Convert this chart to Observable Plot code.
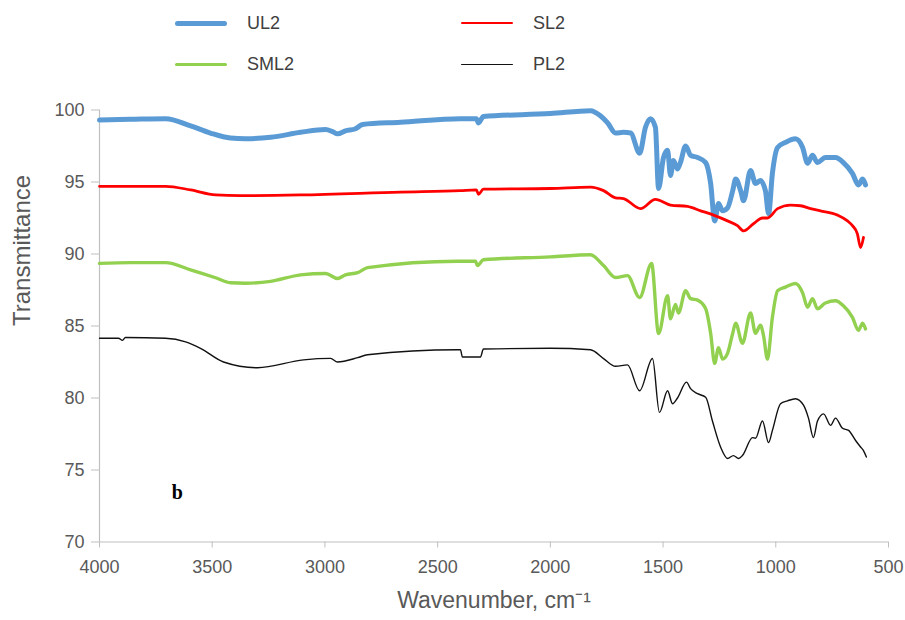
<!DOCTYPE html>
<html>
<head>
<meta charset="utf-8">
<script src="https://cdn.jsdelivr.net/npm/d3@7"></script>
<script src="https://cdn.jsdelivr.net/npm/@observablehq/plot@0.6"></script>
<style>
  body { margin: 0; background: #fff; }
  #chart { position: relative; width: 905px; height: 620px; background: #fff;
           font-family: "Liberation Sans", Arial, sans-serif; }
  #legend { position: relative; width: 905px; height: 90px; }
  .item { position: absolute; display: flex; align-items: center; height: 24px; }
  .swatch { width: 52px; border-radius: 3px; }
  .name { margin-left: 20px; font-size: 18px; color: #404040; }
  #chart svg { display: block; }
</style>
</head>
<body>
<div id="chart"><div id="legend"></div></div>
<script>
// FTIR spectra: wavenumber (cm-1) vs transmittance (%)
const seriesNames = ["UL2", "SL2", "SML2", "PL2"];
const xTicks = [4000, 3500, 3000, 2500, 2000, 1500, 1000, 500];
const yTicks = [70, 75, 80, 85, 90, 95, 100];

const UL2 = [
  [4000, 99.3], [3862, 99.35], [3707, 99.4], [3596, 98.9], [3508, 98.4], [3419, 98.05],
  [3352, 98.0], [3241, 98.1], [3108, 98.45], [2997, 98.65], [2966, 98.5], [2944, 98.35],
  [2909, 98.55], [2864, 98.7], [2833, 99.0], [2665, 99.15], [2399, 99.4], [2328, 99.4],
  [2319, 99.1], [2297, 99.55], [2000, 99.75], [1822, 99.95], [1778, 99.6], [1746, 99.1],
  [1711, 98.4], [1676, 98.45], [1644, 98.4], [1604, 97.0], [1578, 98.8], [1556, 99.4],
  [1534, 98.8], [1520, 94.55], [1498, 96.7], [1480, 97.2], [1467, 95.45], [1454, 96.5],
  [1436, 95.9], [1423, 96.35], [1400, 97.5], [1378, 96.85], [1347, 96.7], [1311, 96.35],
  [1289, 94.9], [1271, 92.3], [1254, 93.5], [1236, 93.0], [1214, 93.2], [1191, 94.4],
  [1178, 95.2], [1156, 94.4], [1143, 93.7], [1112, 95.8], [1090, 94.9], [1068, 95.1],
  [1046, 94.4], [1032, 92.8], [1015, 95.6], [992, 97.4], [957, 97.75], [913, 98.0],
  [881, 97.4], [859, 96.3], [837, 96.85], [815, 96.35], [780, 96.7], [735, 96.7],
  [700, 96.35], [660, 95.6], [633, 94.8], [615, 95.2], [602, 94.8]
];

const SL2 = [
  [4000, 94.7], [3707, 94.7], [3596, 94.45], [3485, 94.1], [3375, 94.05], [3108, 94.1],
  [2665, 94.3], [2399, 94.4], [2328, 94.45], [2319, 94.15], [2297, 94.5], [2000, 94.55],
  [1822, 94.65], [1764, 94.4], [1711, 93.9], [1676, 93.85], [1600, 93.15], [1534, 93.8],
  [1467, 93.4], [1392, 93.3], [1333, 93.0], [1276, 92.7], [1214, 92.3], [1170, 91.97],
  [1143, 91.6], [1099, 92.1], [1059, 92.5], [1037, 92.5], [992, 93.15], [935, 93.4],
  [890, 93.35], [846, 93.15], [802, 93.0], [726, 92.7], [682, 92.3], [660, 91.97],
  [638, 91.4], [624, 90.45], [611, 91.15]
];

const SML2 = [
  [4000, 89.35], [3862, 89.4], [3707, 89.4], [3596, 88.9], [3485, 88.35], [3419, 88.0],
  [3352, 87.97], [3241, 88.1], [3108, 88.55], [2997, 88.65], [2944, 88.3], [2909, 88.55],
  [2855, 88.7], [2811, 89.05], [2412, 89.5], [2332, 89.5], [2324, 89.2], [2297, 89.6],
  [2000, 89.8], [1822, 89.95], [1764, 89.2], [1711, 88.37], [1658, 88.5], [1604, 86.98],
  [1551, 89.34], [1520, 84.48], [1480, 87.1], [1467, 85.5], [1445, 86.5], [1432, 85.9],
  [1400, 87.45], [1378, 86.9], [1347, 86.8], [1311, 86.2], [1289, 84.5], [1271, 82.4],
  [1254, 83.5], [1236, 82.7], [1214, 83.1], [1191, 84.5], [1178, 85.2], [1148, 83.8],
  [1112, 85.9], [1090, 84.5], [1068, 85.05], [1054, 84.3], [1037, 82.7], [1015, 85.6],
  [992, 87.45], [957, 87.7], [913, 87.95], [881, 87.3], [859, 86.3], [837, 86.9],
  [815, 86.2], [780, 86.6], [735, 86.75], [700, 86.4], [660, 85.6], [633, 84.7],
  [615, 85.2], [602, 84.8]
];

const PL2 = [
  [4000, 84.15], [3916, 84.15], [3898, 84.0], [3885, 84.2], [3707, 84.15], [3618, 83.9],
  [3552, 83.45], [3450, 82.5], [3299, 82.1], [3095, 82.65], [2975, 82.75], [2944, 82.5],
  [2855, 82.8], [2811, 83.0], [2412, 83.35], [2399, 83.35], [2390, 82.85], [2310, 82.85],
  [2297, 83.4], [2000, 83.45], [1822, 83.35], [1764, 82.74], [1711, 82.2], [1658, 82.3],
  [1604, 80.5], [1547, 82.74], [1516, 79.0], [1480, 80.5], [1458, 79.6], [1436, 80.0],
  [1396, 81.1], [1378, 80.65], [1347, 80.3], [1311, 80.05], [1281, 78.4], [1245, 76.6],
  [1214, 75.8], [1188, 76.0], [1165, 75.8], [1148, 76.0], [1103, 77.25], [1090, 77.2],
  [1059, 78.4], [1032, 76.9], [1015, 77.75], [979, 79.6], [948, 79.8], [913, 79.95],
  [877, 79.5], [855, 78.6], [833, 77.25], [815, 78.4], [788, 78.9], [757, 78.1],
  [735, 78.6], [704, 77.9], [677, 77.75], [646, 77.05], [624, 76.6], [611, 76.35],
  [598, 75.9]
];

// panel tag drawn inside the frame
const panelTag = { text: "b", wavenumber: 3655, transmittance: 73.4 };

// drawing style for each series, in legend order
const seriesStyle = {
  UL2:  { color: "#5b9bd5", width: 5 },
  SL2:  { color: "#ff0000", width: 2.8 },
  SML2: { color: "#92d050", width: 3.4 },
  PL2:  { color: "#111111", width: 1.4 }
};

const seriesData = { UL2, SL2, SML2, PL2 };
const toRows = (name) => seriesData[name].map(([w, t]) => ({ series: name, wavenumber: w, transmittance: t }));

// legend: two columns, two rows
const legend = document.getElementById("legend");
seriesNames.forEach((name, i) => {
  const col = i % 2, row = Math.floor(i / 2);
  const item = document.createElement("div");
  item.className = "item";
  item.style.left = (175 + col * 286) + "px";
  item.style.top = (11 + row * 41.5) + "px";
  const sw = document.createElement("div");
  sw.className = "swatch";
  sw.style.height = seriesStyle[name].width + "px";
  sw.style.background = seriesStyle[name].color;
  const label = document.createElement("span");
  label.className = "name";
  label.textContent = name;
  item.append(sw, label);
  legend.append(item);
});

const axisGray = "#bfbfbf";
const textGray = "#595959";
const plain = d3.format("d");

const chart = Plot.plot({
  width: 905,
  height: 530,
  marginTop: 19.5,
  marginBottom: 78.5,
  marginLeft: 99,
  marginRight: 17,
  x: { domain: [4000, 500] },
  y: { domain: [70, 100] },
  style: { fontFamily: "'Liberation Sans', Arial, sans-serif", fontSize: "18px", background: "#fff", overflow: "visible" },
  marks: [
    Plot.ruleY([70], { stroke: axisGray, strokeWidth: 1.2 }),
    Plot.ruleX([4000], { stroke: axisGray, strokeWidth: 1.2 }),
    Plot.axisY(yTicks, { tickSize: 8, tickPadding: 7, stroke: axisGray, fill: textGray, label: null, fontSize: 18, tickFormat: plain }),
    Plot.axisX(xTicks, { tickSize: 6, tickPadding: 12, stroke: axisGray, fill: textGray, label: null, fontSize: 18, tickFormat: plain }),
    ...seriesNames.map(name => Plot.line(toRows(name), {
      x: "wavenumber",
      y: "transmittance",
      stroke: seriesStyle[name].color,
      strokeWidth: seriesStyle[name].width,
      curve: "monotone-x",
      strokeLinejoin: "round",
      strokeLinecap: "round"
    })),
    Plot.text([panelTag], {
      x: "wavenumber", y: "transmittance", text: "text",
      fontFamily: "'Liberation Serif', 'Times New Roman', serif",
      fontWeight: "bold", fontSize: 20, fill: "#000"
    }),
    Plot.text(["Transmittance"], {
      frameAnchor: "left", rotate: -90, dx: -77, fontSize: 24, fill: textGray
    }),
    Plot.text(["Wavenumber, cm\u207B\u00B9"], {
      frameAnchor: "bottom", dy: 66, fontSize: 23, fill: textGray
    })
  ]
});

document.getElementById("chart").append(chart);
</script>
</body>
</html>
